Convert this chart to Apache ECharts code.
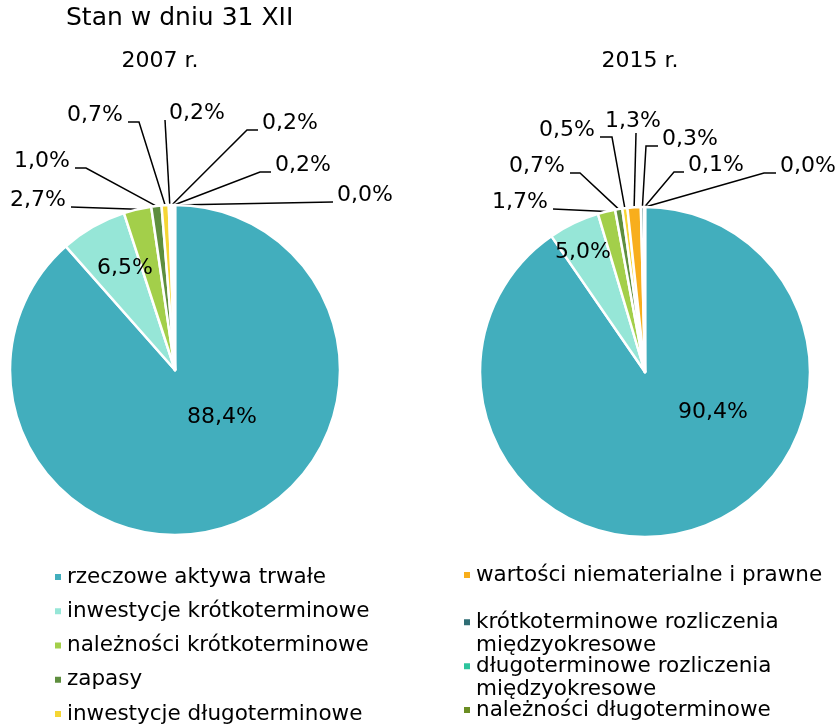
<!DOCTYPE html>
<html><head><meta charset="utf-8">
<script src="https://cdn.jsdelivr.net/npm/echarts@6/dist/echarts.min.js"></script>
<style>html,body{margin:0;padding:0;background:#fff}#c{width:840px;height:724px}</style>
</head><body><div id="c"></div>
<script>
const categories = ['rzeczowe aktywa trwałe','inwestycje krótkoterminowe','należności krótkoterminowe','zapasy','inwestycje długoterminowe','wartości niematerialne i prawne','krótkoterminowe rozliczenia międzyokresowe','długoterminowe rozliczenia międzyokresowe','należności długoterminowe'];
const values2007 = [88.4, 6.5, 2.7, 1.0, 0.7, 0.2, 0.2, 0.2, 0.0];
const values2015 = [90.4, 5.0, 1.7, 0.7, 0.5, 1.3, 0.3, 0.1, 0.0];
const yearLabels = ['2007 r.', '2015 r.'];
const chartTitle = 'Stan w dniu 31 XII';

const colors = ['#42AEBD','#96E6D7','#A3CF4A','#5E8E3E','#F5D634','#F8AE1C','#2F6D74','#2EC49D','#6B8E23'];
const FONT = 'DejaVu Sans';
const centers = [[175, 370], [645, 372]];
// label placement relative to pie centre: [dx, dy, mode, elbow]
const labelPlace = [
  [[47,47,'center'],[-50,-102,'center'],[-109,-170,'right',0],[-105,-209,'right',11],[-52,-255,'right',11],[-6,-257,'left',0],[87,-247,'left',11],[100,-205,'left',11],[162,-175,'left',0]],
  [[68,40,'center'],[-62,-120,'center'],[-97,-170,'right',0],[-80,-206,'right',10],[-50,-242,'right',12],[-12,-251,'below',0],[17,-233,'left',12],[43,-207,'left',10],[135,-206,'left',12]]
];

function fmt(v){ return v.toFixed(1).replace('.', ',') + '%'; }

function buildData(vals){
  return categories.map((n,i)=>{
    const d = {name:n, value:vals[i], itemStyle:{color:colors[i]}};
    if (i < 2) { d.label = {position:'inside'}; d.labelLine = {show:false}; }
    return d;
  });
}

function layoutFn(params){
  const s = params.seriesIndex, i = params.dataIndex;
  const p = labelPlace[s][i];
  const c = centers[s];
  const x = c[0] + p[0], y = c[1] + p[1];
  const mode = p[2];
  const res = {x:x, y:y, align: (mode==='below'||mode==='center') ? 'center' : mode, verticalAlign:'middle'};
  if (i >= 2) {
    let start = params.labelLinePoints && params.labelLinePoints[0];
    if (!start) start = [c[0], c[1]-165];
    let end, elbow;
    if (mode === 'left') { end = [x-4, y+7]; elbow = [end[0]-p[3], end[1]]; }
    else if (mode === 'right') { end = [x+5, y+7]; elbow = [end[0]+p[3], end[1]]; }
    else { end = [x+3, y+12]; elbow = end.slice(); }
    res.labelLinePoints = [start, elbow, end];
  }
  return res;
}

function pieSeries(idx, vals){
  return {
    type:'pie', radius:165, center:centers[idx], startAngle:90, clockwise:true,
    avoidLabelOverlap:false, animation:false,
    itemStyle:{borderColor:'#fff', borderWidth:2.5},
    label:{show:true, formatter:p=>fmt(p.value), fontFamily:FONT, fontSize:22, color:'#000'},
    labelLine:{show:true, length:10, length2:10, lineStyle:{color:'#000', width:1.5}},
    labelLayout: layoutFn,
    emphasis:{disabled:true},
    data: buildData(vals)
  };
}

const legendText = {fontFamily:FONT, fontSize:21.5, color:'#000', lineHeight:22};
const wrapText = {fontFamily:FONT, fontSize:21.5, color:'#000', lineHeight:23.5};
const legendBase = {orient:'vertical', icon:'rect', itemWidth:8, itemHeight:8, itemGap:12.25, padding:0, selectedMode:false, height:200,
  formatter: n => n.indexOf(' międzyokresowe') >= 0 ? '\n' + n.replace(' międzyokresowe', '\nmiędzyokresowe') : n};

const option = {
  animation:false,
  title:[
    {text:chartTitle, left:66, top:6, padding:0, textStyle:{fontFamily:FONT, fontSize:25, fontWeight:'normal', color:'#000'}},
    {text:yearLabels[0], left:160, top:50, padding:0, textAlign:'center', textStyle:{fontFamily:FONT, fontSize:22, fontWeight:'normal', color:'#000'}},
    {text:yearLabels[1], left:640, top:50, padding:0, textAlign:'center', textStyle:{fontFamily:FONT, fontSize:22, fontWeight:'normal', color:'#000'}}
  ],
  legend:[
    Object.assign({}, legendBase, {left:53, top:566, data:categories.slice(0,5), textStyle:legendText}),
    Object.assign({}, legendBase, {left:462, top:564, data:[categories[5]], textStyle:legendText, height:40}),
    Object.assign({}, legendBase, {left:462, top:587, data:[categories[6]], textStyle:wrapText, height:80}),
    Object.assign({}, legendBase, {left:462, top:631, data:[categories[7]], textStyle:wrapText, height:80}),
    Object.assign({}, legendBase, {left:462, top:699, data:[categories[8]], textStyle:legendText, height:40})
  ],
  series:[pieSeries(0, values2007), pieSeries(1, values2015)]
};
const chart = echarts.init(document.getElementById('c'), null, {renderer:'canvas'});
chart.setOption(option);
</script></body></html>
